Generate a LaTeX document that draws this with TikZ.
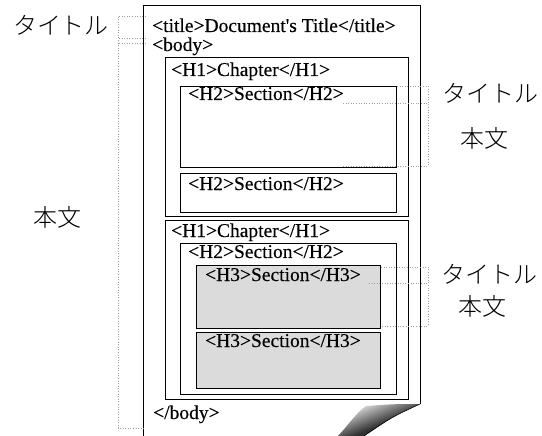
\documentclass[tikz,border=0pt]{standalone}
\usepackage{fontspec}
\usetikzlibrary{fit}
\newfontfamily\tagfont{Liberation Serif}[FakeBold=0.3]
\IfFontExistsTF{Noto Sans CJK JP Light}
  {\newfontfamily\jpfont{Noto Sans CJK JP Light}}
  {\newfontfamily\jpfont{Noto Sans CJK JP}}
\pgfdeclarehorizontalshading{curlshade}{100bp}{%
  color(0bp)=(gray!25); color(30bp)=(gray!35); color(55bp)=(black!80); color(100bp)=(black)}
\begin{document}
\begin{tikzpicture}[x=1pt,y=-1pt,
  tag/.style={font=\tagfont\fontsize{19.5}{19.5}\selectfont, inner sep=0pt, anchor=base west},
  jp/.style={font=\jpfont\fontsize{24}{24}\selectfont, inner sep=0pt},
  frame/.style={draw=black, line width=0.9pt, inner sep=0pt},
  subsec/.style={frame, fill=gray!28},
  pageline/.style={draw=black, line width=1pt},
  guide/.style={draw=gray!75, line width=0.7pt, dash pattern=on 1pt off 1.6pt}]
\useasboundingbox (0,0) rectangle (542,436);

% page outline, open at the bottom
\coordinate (pbl) at (143,436);
\coordinate (ptl) at (143,6);
\coordinate (ptr) at (420,6);
\coordinate (pbr) at (420,404);
\draw[pageline] (pbl) -- (ptl) -- (ptr) -- (pbr);

% curled page corner
\coordinate (ctop) at (366,406);
\coordinate (cright) at (420,404);
\coordinate (cbr) at (364,436);
\coordinate (cbl) at (338,436);
\shade[shading=curlshade, shading angle=-68]
  (ctop) .. controls (395,404) .. (cright)
  .. controls (392,417) .. (cbr) -- (cbl)
  .. controls (350,423) and (357,412) .. (ctop) -- cycle;
\draw[black, line width=0.6pt] (cright) .. controls (392,417) .. (cbr);

% section boxes
\node[frame, fit={(165,57) (408,216)}] (h1a) {};
\node[frame, fit={(180,86) (396,167)}] (h2a) {};
\node[frame, fit={(180,173) (396,212)}] (h2b) {};
\node[frame, fit={(165,220) (408,399)}] (h1b) {};
\node[frame, fit={(180,243) (396,394)}] (h2c) {};
\node[subsec, fit={(196,265) (380,328)}] (h3a) {};
\node[subsec, fit={(196,332) (380,388)}] (h3b) {};

% markup text
\node[tag] (title) at (152,32) {<title>Document's Title</title>};
\node[tag] (body) at (152,51) {<body>};
\node[tag] (ch1) at (171,76) {<H1>Chapter</H1>};
\node[tag] (sec1) at (188,100) {<H2>Section</H2>};
\node[tag] (sec2) at (188,190) {<H2>Section</H2>};
\node[tag] (ch2) at (171,237) {<H1>Chapter</H1>};
\node[tag] (sec3) at (188,258) {<H2>Section</H2>};
\node[tag] (sub1) at (205,281) {<H3>Section</H3>};
\node[tag] (sub2) at (205,347) {<H3>Section</H3>};
\node[tag] (bodyend) at (153,419) {</body>};

% labels
\node[jp] (ltitle) at (61,25) {タイトル};
\node[jp] (lbody) at (58,217) {本文};
\node[jp] (r1title) at (490,93) {タイトル};
\node[jp] (r1body) at (484,138) {本文};
\node[jp] (r2title) at (489,274) {タイトル};
\node[jp] (r2body) at (482,306) {本文};

% left brackets
\coordinate (la) at (146,16);
\coordinate (lb) at (146,38);
\coordinate (lc) at (146,43);
\coordinate (ld) at (146,428);
\coordinate (lx1) at (118,16);
\coordinate (lx2) at (118,38);
\coordinate (lx3) at (118,43);
\coordinate (lx4) at (118,428);
\draw[guide] (la) -- (lx1) -- (lx4) -- (ld);
\draw[guide] (lb) -- (lx2);
\draw[guide] (lc) -- (lx3);

% right brackets, first chapter
\coordinate (ra1) at (397,86);
\coordinate (ra2) at (343,103);
\coordinate (ra3) at (343,166);
\coordinate (rx1) at (428,86);
\coordinate (rx2) at (428,103);
\coordinate (rx3) at (428,166);
\draw[guide] (ra1) -- (rx1) -- (rx3) -- (ra3);
\draw[guide] (ra2) -- (rx2);

% right brackets, second chapter
\coordinate (rb1) at (381,267);
\coordinate (rb2) at (369,283);
\coordinate (rb3) at (381,326);
\coordinate (ry1) at (428,267);
\coordinate (ry2) at (428,283);
\coordinate (ry3) at (428,326);
\draw[guide] (rb1) -- (ry1) -- (ry3) -- (rb3);
\draw[guide] (rb2) -- (ry2);
\end{tikzpicture}
\end{document}
